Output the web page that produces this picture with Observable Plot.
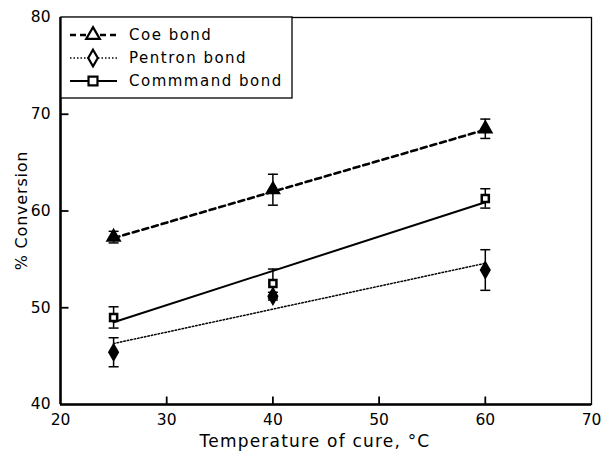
<!DOCTYPE html>
<html>
<head>
<meta charset="utf-8">
<script src="https://cdn.jsdelivr.net/npm/d3@7"></script>
<script src="https://cdn.jsdelivr.net/npm/@observablehq/plot@0.6"></script>
<style>
  body { margin: 0; background: white; }
  #chart { width: 605px; height: 452px; }
</style>
</head>
<body>
<div id="chart"></div>
<script>
// ---- data ----
const temps = [25, 40, 60];
const seriesNames = ["Coe bond", "Pentron bond", "Commmand bond"];
const coe = [57.3, 62.2, 68.5];
const coeErr = [0.6, 1.6, 1.0];
const pentron = [45.4, 51.2, 53.9];
const pentronErr = [1.5, 0.4, 2.1];
const commmand = [49.0, 52.5, 61.3];
const commmandErr = [1.1, 1.5, 1.0];
// fitted regression lines (values at the ends of the lines)
const fitTemps = [25, 60];
const coeFit = [57.2, 68.4];
const pentronFit = [46.3, 54.6];
const commmandFit = [48.5, 60.9];
// axis ticks
const xTicks = [20, 30, 40, 50, 60, 70];
const yTicks = [40, 50, 60, 70, 80];
const xInnerTicks = [30, 40, 50, 60];
const yInnerTicks = [50, 60, 70];

const W = 605, H = 452, ML = 60, MR = 14, MT = 17, MB = 48;
const xDomain = [20, 70], yDomain = [40, 80];
const tickLen = 8;

const pts = (vals, errs, name) => temps.map((t, i) => ({x: t, y: vals[i], e: errs[i], series: name}));
const coePts = pts(coe, coeErr, seriesNames[0]);
const pentronPts = pts(pentron, pentronErr, seriesNames[1]);
const commmandPts = pts(commmand, commmandErr, seriesNames[2]);
const allPts = [...coePts, ...pentronPts, ...commmandPts];
const fit = (vals) => fitTemps.map((t, i) => ({x: t, y: vals[i]}));

const hcap = {draw(ctx) { ctx.moveTo(-5, 0); ctx.lineTo(5, 0); }};
const tickRight = {draw(ctx) { ctx.moveTo(0, 0); ctx.lineTo(tickLen, 0); }};
const tickUp = {draw(ctx) { ctx.moveTo(0, 0); ctx.lineTo(0, -tickLen); }};

const chart = Plot.plot({
  width: W, height: H, marginLeft: ML, marginRight: MR, marginTop: MT, marginBottom: MB,
  style: {fontFamily: "DejaVu Sans", fontSize: "15.5px", color: "black", background: "white"},
  x: {domain: xDomain},
  y: {domain: yDomain},
  marks: [
    Plot.frame({stroke: "black", strokeWidth: 1.3}),
    Plot.ruleX([xDomain[0]], {stroke: "black", strokeWidth: 2.5}),
    Plot.ruleY([yDomain[0]], {stroke: "black", strokeWidth: 2.5}),
    Plot.axisX({ticks: xTicks, tickSize: 0, tickPadding: 9, letterSpacing: 1, label: null}),
    Plot.axisY({ticks: yTicks, tickSize: 0, tickPadding: 10, letterSpacing: 1, label: null}),
    // inward ticks
    Plot.dot(yInnerTicks.map(v => ({x: xDomain[0], y: v})), {x: "x", y: "y", symbol: tickRight, fill: "none", stroke: "black", strokeWidth: 1.8}),
    Plot.dot(xInnerTicks.map(v => ({x: v, y: yDomain[0]})), {x: "x", y: "y", symbol: tickUp, fill: "none", stroke: "black", strokeWidth: 1.8}),
    // fit lines
    Plot.line(fit(coeFit), {x: "x", y: "y", stroke: "black", strokeWidth: 2.6, strokeDasharray: "6,4"}),
    Plot.line(fit(pentronFit), {x: "x", y: "y", stroke: "black", strokeWidth: 1.5, strokeDasharray: "1.5,2"}),
    Plot.line(fit(commmandFit), {x: "x", y: "y", stroke: "black", strokeWidth: 2}),
    // error bars
    Plot.ruleX(allPts, {x: "x", y1: d => d.y - d.e, y2: d => d.y + d.e, stroke: "black", strokeWidth: 1.5}),
    Plot.dot(allPts, {x: "x", y: d => d.y - d.e, symbol: hcap, fill: "none", stroke: "black", strokeWidth: 1.5}),
    Plot.dot(allPts, {x: "x", y: d => d.y + d.e, symbol: hcap, fill: "none", stroke: "black", strokeWidth: 1.5}),
    // markers
    Plot.dot(coePts, {x: "x", y: "y", symbol: "triangle", r: 5, fill: "black", stroke: "black"}),
    Plot.dot(pentronPts, {x: "x", y: "y", symbol: "diamond", r: 5, fill: "black", stroke: "black"}),
    Plot.dot(commmandPts, {x: "x", y: "y", symbol: "square", r: 4, fill: "white", stroke: "black", strokeWidth: 2.5})
  ]
});
document.getElementById("chart").appendChild(chart);
const svg = d3.select(chart);

// axis titles
svg.append("text").attr("x", 315).attr("y", 447).attr("text-anchor", "middle").attr("font-family", "DejaVu Sans").attr("font-size", 17)
  .attr("letter-spacing", "1.2px").attr("fill", "black").text("Temperature of cure, °C");
svg.append("text").attr("transform", `translate(27,${(MT + H - MB) / 2}) rotate(-90)`)
  .attr("text-anchor", "middle").attr("font-family", "DejaVu Sans").attr("font-size", 16)
  .attr("letter-spacing", "0.8px").attr("fill", "black").text("% Conversion");

// ---- legend inside the plot frame ----
const lg = svg.append("g").attr("font-family", "DejaVu Sans").attr("font-size", 15).attr("text-anchor", "start");
lg.append("rect").attr("x", 61).attr("y", 17).attr("width", 231).attr("height", 81)
  .attr("fill", "white").attr("stroke", "black").attr("stroke-width", 1.3);
const legendStyles = [
  {dash: "6,4", w: 2.6, sym: d3.symbolTriangle},
  {dash: "1.5,2", w: 1.5, sym: d3.symbolDiamond},
  {dash: null, w: 2, sym: d3.symbolSquare}
];
seriesNames.forEach((name, i) => {
  const cy = 35 + i * 23;
  const s = legendStyles[i];
  const ln = lg.append("line").attr("x1", 70).attr("x2", 117).attr("y1", cy).attr("y2", cy)
    .attr("stroke", "black").attr("stroke-width", s.w);
  if (s.dash) ln.attr("stroke-dasharray", s.dash);
  lg.append("path").attr("d", d3.symbol(s.sym, 80)()).attr("transform", `translate(93,${cy})`)
    .attr("fill", "white").attr("stroke", "black").attr("stroke-width", 2.2);
  lg.append("text").attr("x", 129).attr("y", cy).attr("dy", "0.35em").attr("text-anchor", "start")
    .attr("letter-spacing", "1.5px").attr("fill", "black").text(name);
});
</script>
</body>
</html>
